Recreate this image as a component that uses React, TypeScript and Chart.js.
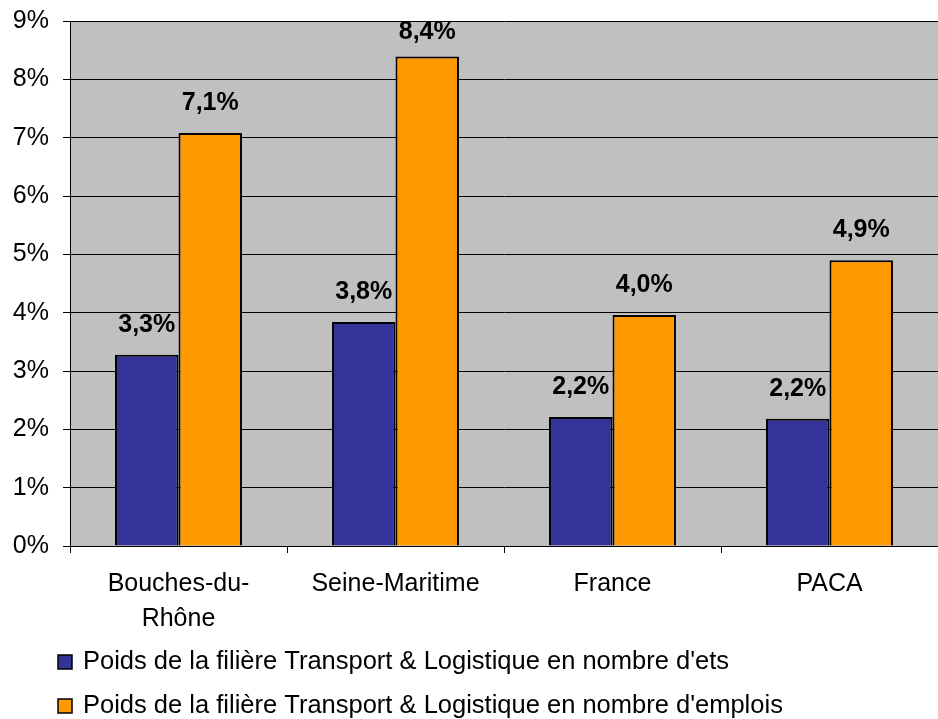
import React, { useEffect, useRef } from "react";
import { Chart, registerables } from "chart.js";

Chart.register(...registerables);

const categories: (string | string[])[] = [["Bouches-du-", "Rhône"], "Seine-Maritime", "France", "PACA"];
const seriesNames = [
  "Poids de la filière Transport & Logistique en nombre d'ets",
  "Poids de la filière Transport & Logistique en nombre d'emplois",
];
const etsValues = [3.28, 3.84, 2.21, 2.18];
const emploisValues = [7.08, 8.39, 3.96, 4.9];
const seriesColors = ["#333399", "#FF9900"];
const yTicks = [0, 1, 2, 3, 4, 5, 6, 7, 8, 9];

const FONT = "'Liberation Sans', Arial, sans-serif";

const fmt = (v: number) => v.toFixed(1).replace(".", ",") + "%";

const bgPlugin = {
  id: "plotBg",
  beforeDraw(chart: any) {
    const { ctx, chartArea } = chart;
    ctx.save();
    ctx.fillStyle = "#C0C0C0";
    ctx.fillRect(chartArea.left, chartArea.top, chartArea.right - chartArea.left, chartArea.bottom - chartArea.top);
    ctx.restore();
  },
};

const valueLabelPlugin = {
  id: "valueLabels",
  afterDatasetsDraw(chart: any) {
    const { ctx, chartArea } = chart;
    ctx.save();
    ctx.font = `bold 25px ${FONT}`;
    ctx.fillStyle = "#000";
    ctx.textAlign = "center";
    ctx.textBaseline = "middle";
    chart.data.datasets.forEach((ds: any, di: number) => {
      const meta = chart.getDatasetMeta(di);
      meta.data.forEach((bar: any, i: number) => {
        const y = Math.max(bar.y - 30, chartArea.top + 11);
        ctx.fillText(fmt(ds.data[i]), bar.x, y);
      });
    });
    ctx.restore();
  },
};

const legendPlugin = {
  id: "customLegend",
  afterDraw(chart: any) {
    const { ctx } = chart;
    const rows = [662, 706];
    ctx.save();
    ctx.font = `25.5px ${FONT}`;
    ctx.textBaseline = "middle";
    ctx.textAlign = "left";
    chart.data.datasets.forEach((ds: any, di: number) => {
      const y = rows[di];
      ctx.fillStyle = ds.backgroundColor;
      ctx.fillRect(58, y - 7, 14, 14);
      ctx.strokeStyle = "#000";
      ctx.lineWidth = 1.5;
      ctx.strokeRect(58, y - 7, 14, 14);
      ctx.fillStyle = "#000";
      ctx.fillText(ds.label, 83, y);
    });
    ctx.restore();
  },
};

export default function App() {
  const ref = useRef<HTMLCanvasElement>(null);
  useEffect(() => {
    if (!ref.current) return;
    const chart = new Chart(ref.current, {
      type: "bar",
      data: {
        labels: categories,
        datasets: [
          {
            label: seriesNames[0],
            data: etsValues,
            backgroundColor: seriesColors[0],
            borderColor: "#000",
            borderWidth: 2,
            categoryPercentage: 0.585,
            barPercentage: 1,
          },
          {
            label: seriesNames[1],
            data: emploisValues,
            backgroundColor: seriesColors[1],
            borderColor: "#000",
            borderWidth: 2,
            categoryPercentage: 0.585,
            barPercentage: 1,
          },
        ],
      },
      options: {
        responsive: false,
        animation: false,
        devicePixelRatio: 1,
        layout: { padding: { top: 21, right: 0, bottom: 73, left: 0 } },
        plugins: {
          legend: { display: false },
          tooltip: { enabled: false },
        },
        scales: {
          x: {
            grid: {
              display: true,
              drawOnChartArea: false,
              drawTicks: true,
              tickLength: 7,
              color: "#000",
              offset: true,
            },
            border: { display: true, color: "#000", width: 1 },
            ticks: {
              color: "#000",
              font: { family: FONT, size: 25, lineHeight: 1.4 },
              padding: 14,
              maxRotation: 0,
              autoSkip: false,
            },
            afterFit(scale: any) {
              scale.height = 100;
              scale.paddingLeft = 0;
              scale.paddingRight = 0;
            },
          },
          y: {
            min: 0,
            max: 9,
            afterBuildTicks(scale: any) {
              scale.ticks = yTicks.map((v) => ({ value: v }));
            },
            grid: {
              color: "#000",
              lineWidth: 1,
              tickLength: 7,
              drawTicks: true,
            },
            border: { display: true, color: "#000", width: 1 },
            ticks: {
              color: "#000",
              font: { family: FONT, size: 25 },
              padding: 14,
              callback: (v: any) => v + "%",
            },
            afterFit(scale: any) {
              scale.width = 70;
              scale.paddingTop = 0;
              scale.paddingBottom = 0;
            },
          },
        },
      },
      plugins: [bgPlugin, valueLabelPlugin, legendPlugin],
    });
    return () => chart.destroy();
  }, []);
  return (
    <div style={{ position: "absolute", left: 0, top: 0, width: 938, height: 719 }}>
      <canvas ref={ref} width={938} height={719} />
    </div>
  );
}
